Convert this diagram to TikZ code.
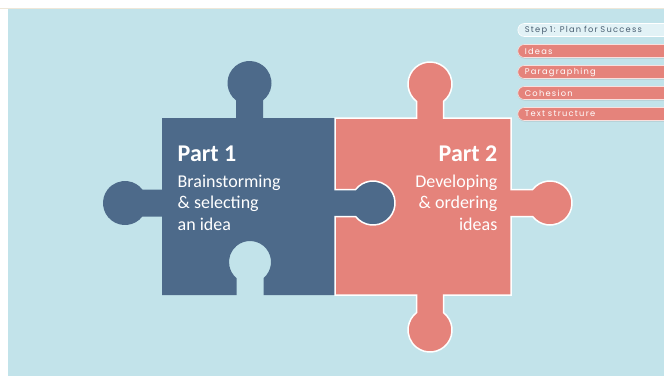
\documentclass[tikz,border=0pt]{standalone}
\usepackage{fontspec}
\setmainfont{Carlito}
\newfontfamily\menufont[LetterSpace=15]{Poppins}
\usetikzlibrary{shadows}
\definecolor{bgblue}{HTML}{C2E3EA}
\definecolor{pieceblue}{HTML}{4D6A8A}
\definecolor{piecepink}{HTML}{E5837B}
\definecolor{stepfill}{HTML}{E2F2F6}
\definecolor{steptext}{HTML}{4A5F72}
\definecolor{topline}{HTML}{EEE7D8}
\tikzset{
  parttitle/.style={text=white, font=\fontsize{24}{28}\selectfont\bfseries, inner sep=0pt},
  partline/.style={text=white, font=\fontsize{18}{21}\selectfont, inner sep=0pt},
  menubox/.style={anchor=west, minimum height=13pt, text width=146pt, inner xsep=7pt, inner ysep=0pt,
    rounded corners=6.5pt, align=left, font=\menufont\fontsize{8.3}{9}\selectfont, line width=0.6pt},
  stepbox/.style={menubox, fill=stepfill, draw=white, text=steptext},
  pinkbar/.style={menubox, fill=piecepink, draw=white!75!piecepink, text=white,
    drop shadow={shadow xshift=0pt, shadow yshift=-1pt, opacity=0.25}},
}
\begin{document}
\begin{tikzpicture}[x=1pt,y=-1pt]
\useasboundingbox (0,0) rectangle (664,376);
\fill[white] (0,0) rectangle (664,376);
\fill[bgblue] (8,9) rectangle (664,376);
\draw[topline, line width=1pt] (0,8.5) -- (664,8.5);

% blue piece
\fill[pieceblue] (162,118) -- (236,118) -- (236,100.37)
  arc[start angle=127.85, end angle=412.15, radius=22] -- (263,118)
  -- (335,118) -- (335,189.5) -- (355.63,189.5)
  arc[start angle=217.85, end angle=502.15, radius=22] -- (335,216.5)
  -- (335,295) -- (263.5,295) -- (263.5,278.09)
  arc[start angle=50, end angle=-230, radius=21] -- (236.5,295)
  -- (162,295) -- (162,216.5) -- (142.37,216.5)
  arc[start angle=37.85, end angle=322.15, radius=22] -- (162,189.5) -- cycle;

% pink piece
\filldraw[fill=piecepink, draw=white, line width=1.5pt] (335,118) -- (416.5,118) -- (416.5,101.37)
  arc[start angle=127.85, end angle=412.15, radius=22] -- (443.5,118)
  -- (511,118) -- (511,189.5) -- (532.63,189.5)
  arc[start angle=217.85, end angle=502.15, radius=22] -- (511,216.5)
  -- (511,295) -- (443.5,295) -- (443.5,312.63)
  arc[start angle=-52.15, end angle=232.15, radius=22] -- (416.5,295)
  -- (335,295) -- (335,216.5) -- (355.63,216.5)
  arc[start angle=142.15, end angle=-142.15, radius=22] -- (335,189.5) -- cycle;

% texts part 1
\node[parttitle, anchor=base west] (p1title) at (177.5,161) {Part 1};
\node[partline, anchor=base west] (p1a) at (177.5,187) {Brainstorming};
\node[partline, anchor=base west] (p1b) at (177.5,208.5) {\& selecting};
\node[partline, anchor=base west] (p1c) at (177.5,230) {an idea};

% texts part 2
\node[parttitle, anchor=base east] (p2title) at (497.5,161) {Part 2};
\node[partline, anchor=base east] (p2a) at (497.5,187) {Developing};
\node[partline, anchor=base east] (p2b) at (497.5,208.5) {\& ordering};
\node[partline, anchor=base east] (p2c) at (497.5,230) {ideas};

% menu
\node[stepbox] (step) at (517.5,30) {Step 1: Plan for Success};
\node[pinkbar] (ideas) at (517.5,51) {Ideas};
\node[pinkbar] (para) at (517.5,72) {Paragraphing};
\node[pinkbar] (coh) at (517.5,93) {Cohesion};
\node[pinkbar] (textstr) at (517.5,114) {Text structure};
\end{tikzpicture}
\end{document}
